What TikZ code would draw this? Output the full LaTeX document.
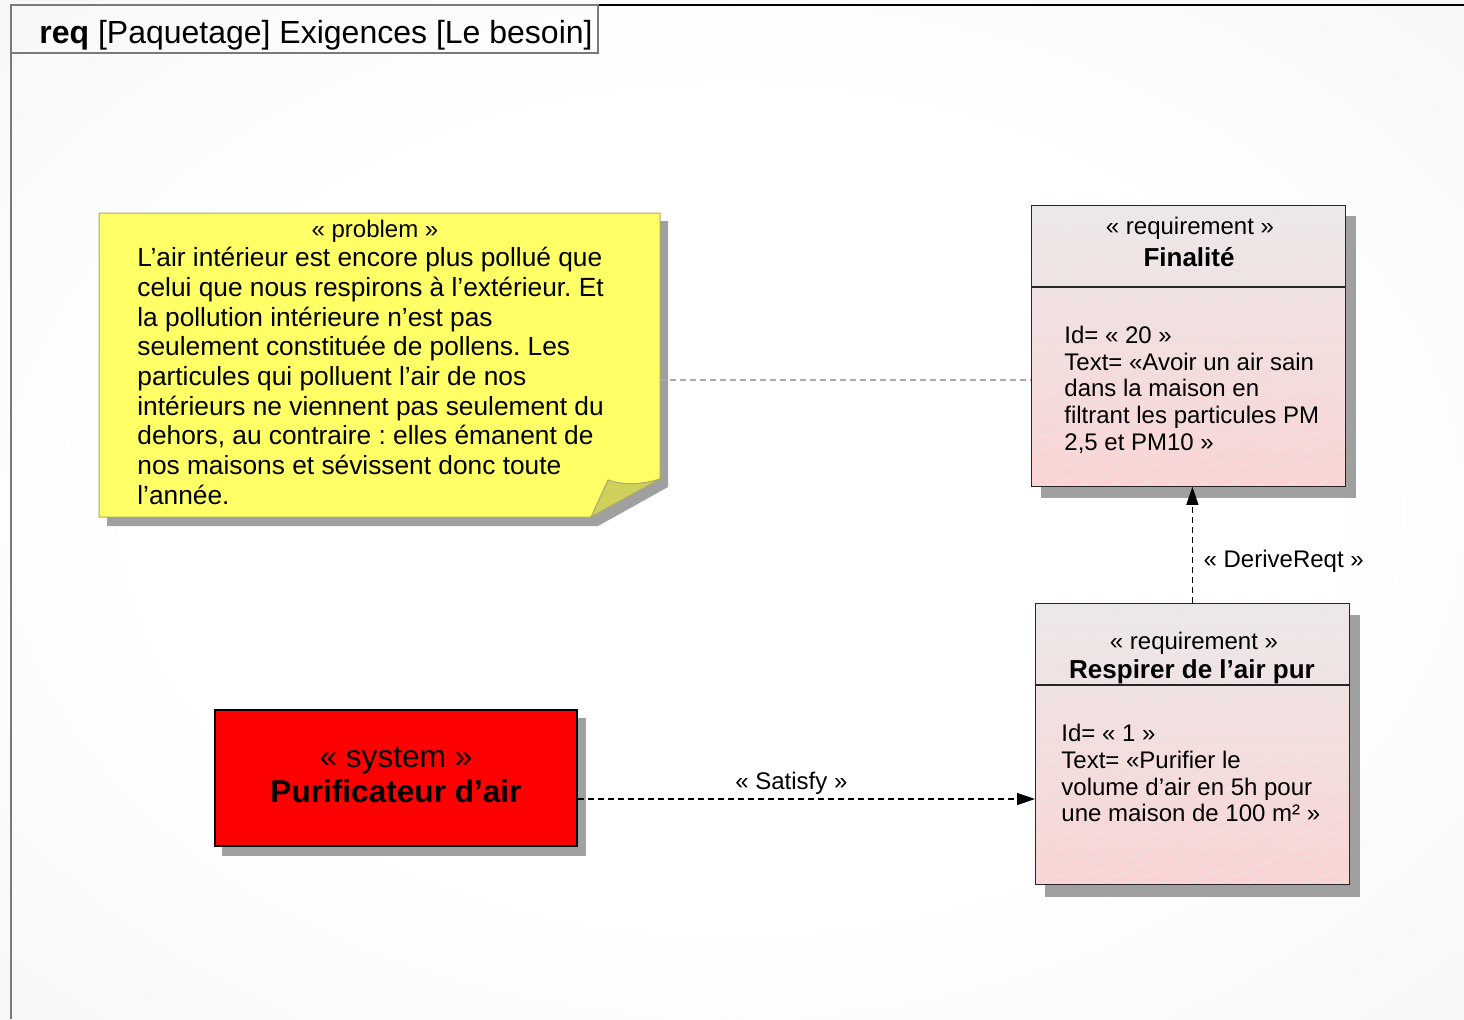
\documentclass[tikz,border=0pt]{standalone}
\usepackage{fontspec}
\setmainfont{Liberation Sans}
\usetikzlibrary{positioning,arrows.meta,patterns.meta}
\definecolor{fondGris}{HTML}{F0F0F0}
\definecolor{cadreGris}{HTML}{7A7A7A}
\definecolor{ombreGris}{HTML}{A0A0A0}
\definecolor{noteJaune}{HTML}{FFFF66}
\definecolor{noteBord}{HTML}{A8A870}
\definecolor{notePli}{HTML}{CFCF5C}
\definecolor{reqGris}{HTML}{EDE8E8}
\definecolor{reqRose}{HTML}{FAD4D4}
\definecolor{sysRouge}{HTML}{FF0000}
\definecolor{lienGris}{HTML}{ABABAB}
\pgfdeclarelayer{fond}
\pgfdeclarelayer{ombre}
\pgfsetlayers{fond,ombre,main}
\pgfdeclareradialshading{fondRadial}{\pgfpoint{0bp}{0bp}}{color(0bp)=(white); color(20bp)=(white); color(50bp)=(fondGris)}
\frenchspacing
\tikzset{
  reqBoite/.style={top color=reqGris, bottom color=reqRose,
    anchor=north west, minimum width=157pt, minimum height=140.5pt, inner sep=0pt,
    postaction={pattern={Lines[angle=24,distance=6pt,line width=0.3pt]}, pattern color=white!82!gray},
    postaction={draw=black!85, line width=0.6pt}},
  reqStereo/.style={font=\fontsize{12}{14}\selectfont},
  reqNom/.style={font=\fontsize{13}{15}\selectfont\bfseries},
  reqCorps/.style={font=\fontsize{12}{13.3}\selectfont, align=left, anchor=north west, inner sep=0pt},
  lienFleche/.style={line width=0.6pt, dash pattern=on 3pt off 2pt, -{Triangle[length=9pt,width=6pt]}},
  lienLabel/.style={font=\fontsize{12}{14}\selectfont}
}
\begin{document}
\begin{tikzpicture}[x=0.5pt, y=-0.5pt]
  \useasboundingbox (0,0) rectangle (1464,1019);
  \begin{pgfonlayer}{fond}
    \shade[shading=fondRadial] (0,0) rectangle (1464,1019);
  \end{pgfonlayer}
  \draw[cadreGris, line width=1pt] (11,1019) -- (11,5);
  \draw[black, line width=0.8pt] (11,5) -- (1464,5);
  \draw[cadreGris, line width=0.6pt] (11,5) rectangle (598,53);
  \node[font=\fontsize{16}{18}\selectfont] (titre) at (316,35) {\textbf{req} [Paquetage] Exigences [Le besoin]};

  \begin{pgfonlayer}{ombre}
    \fill[ombreGris] (107,221) -- (668,221) -- (668,487) -- (598,526) -- (107,526) -- cycle;
  \end{pgfonlayer}
  \filldraw[fill=noteJaune, draw=noteBord, line width=0.5pt] (99,213) -- (660,213) -- (660,479) -- (591,517) -- (99,517) -- cycle;
  \filldraw[fill=notePli, draw=noteBord, line width=0.5pt] (608,480) .. controls (626,486) and (644,484) .. (660,479) -- (591,517) -- cycle;
  \coordinate (noteDroite) at (660,380);
  \node[reqStereo] (problemeStereo) at (375,231) {« problem »};
  \node[font=\fontsize{13.15}{14.85}\selectfont, align=left, anchor=north west, inner sep=0pt] (problemeTexte) at (137,247)
    {L’air intérieur est encore plus pollué que\\
     celui que nous respirons à l’extérieur. Et\\
     la pollution intérieure n’est pas\\
     seulement constituée de pollens. Les\\
     particules qui polluent l’air de nos\\
     intérieurs ne viennent pas seulement du\\
     dehors, au contraire : elles émanent de\\
     nos maisons et sévissent donc toute\\
     l’année.};

  \node[reqBoite] (finalite) at (1031,205) {};
  \draw[black!85, line width=0.6pt] (finalite.west |- 0,287) -- (finalite.east |- 0,287);
  \node[reqStereo] (finaliteStereo) at (1190,228) {« requirement »};
  \node[reqNom] (finaliteNom) at (1189,257) {Finalité};
  \node[reqCorps] (finaliteCorps) at (1064,326)
    {Id= « 20 »\\
     Text= «Avoir un air sain\\
     dans la maison en\\
     filtrant les particules PM\\
     2,5 et PM10 »};

  \node[reqBoite] (respirer) at (1035,603) {};
  \draw[black!85, line width=0.6pt] (respirer.west |- 0,685) -- (respirer.east |- 0,685);
  \node[reqStereo] (respirerStereo) at (1194,643) {« requirement »};
  \node[reqNom] (respirerNom) at (1192,672) {Respirer de l’air pur};
  \node[reqCorps] (respirerCorps) at (1061,724)
    {Id= « 1 »\\
     Text= «Purifier le\\
     volume d’air en 5h pour\\
     une maison de 100 m² »};

  \node[fill=sysRouge, draw=black, line width=1pt, minimum width=181pt, minimum height=68pt,
        align=center, font=\fontsize{15.8}{17.5}\selectfont] (purificateur) at (396,778) {};
  \node[align=center, font=\fontsize{15.8}{17.5}\selectfont] (purificateurTexte) at (396,775)
    {« system »\\ \textbf{Purificateur d’air}};

  \begin{pgfonlayer}{ombre}
    \fill[ombreGris] ([shift={(10,11)}]finalite.north west) rectangle ([shift={(10,11)}]finalite.south east);
    \fill[ombreGris] ([shift={(10,12)}]respirer.north west) rectangle ([shift={(10,12)}]respirer.south east);
    \fill[ombreGris] ([shift={(8,9)}]purificateur.north west) rectangle ([shift={(8,9)}]purificateur.south east);
  \end{pgfonlayer}

  \draw[lienGris, line width=0.6pt, dash pattern=on 3pt off 2pt] (noteDroite) -- (finalite.west |- noteDroite);
  \coordinate (satisfyFin) at (respirer.west |- 0,799);
  \draw[lienFleche] (purificateur.east |- satisfyFin) -- (satisfyFin)
    node[lienLabel, pos=0.467, above=-1.5pt] {« Satisfy »};
  \draw[lienFleche] (respirer.north) -- (respirer.north |- finalite.south)
    node[lienLabel, pos=0.36, right=2pt] {« DeriveReqt »};
\end{tikzpicture}
\end{document}
